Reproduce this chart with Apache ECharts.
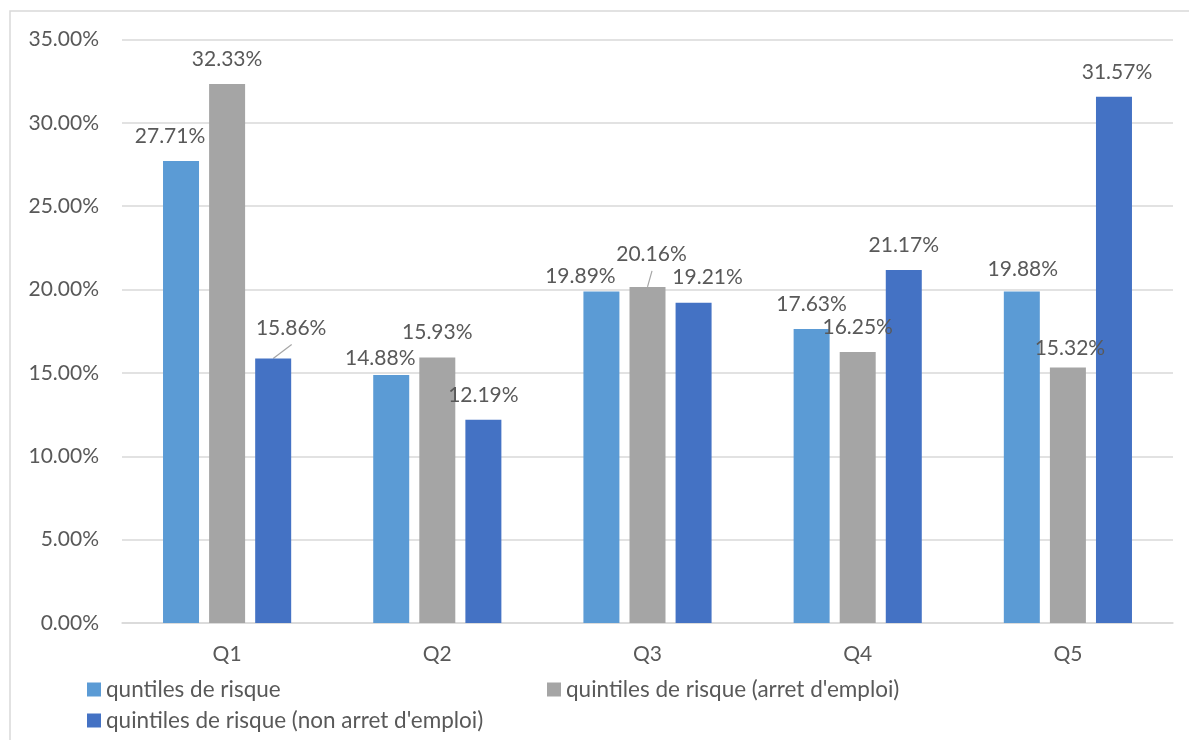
<!DOCTYPE html>
<html>
<head>
<meta charset="utf-8">
<script src="https://cdn.jsdelivr.net/npm/echarts@6/dist/echarts.min.js"></script>
<style>
html,body{margin:0;padding:0;background:#fff;}
#main{width:1189px;height:740px;}
</style>
</head>
<body>
<div id="main"></div>
<script>
const categories = ['Q1', 'Q2', 'Q3', 'Q4', 'Q5'];
const seriesNames = [
  'quntiles de risque',
  "quintiles de risque (arret d'emploi)",
  "quintiles de risque (non arret d'emploi)"
];
const valuesRisque = [27.71, 14.88, 19.89, 17.63, 19.88];
const valuesArret = [32.33, 15.93, 20.16, 16.25, 15.32];
const valuesNonArret = [15.86, 12.19, 19.21, 21.17, 31.57];
const yTicks = { min: 0, max: 35, interval: 5 };

// label placement tweaks (Excel-style moved labels), per series / per category
const labelShift = [
  [[-11, 0], [-11, 8], [-21, 9], [0, 0], [1, 2]],
  [[0, 0], [0, -1], [4, -8], [0, 0], [2, 5]],
  [[18, -6], [0, 0], [14, -1], [0, 0], [3, 0]]
];
const leaderLines = [[], [2], [0]];

const colors = ['#5B9BD5', '#A5A5A5', '#4472C4'];
const FONT = 'Lato';
const TXT = '#595959';

const allValues = [valuesRisque, valuesArret, valuesNonArret];

const chart = echarts.init(document.getElementById('main'), null, { renderer: 'canvas' });

const series = allValues.map((vals, si) => ({
  name: seriesNames[si],
  type: 'bar',
  barWidth: 36,
  barGap: '28%',
  itemStyle: { color: colors[si] },
  label: {
    show: true,
    position: 'top',
    distance: 14,
    color: TXT,
    fontFamily: FONT,
    fontSize: 21,
    formatter: p => p.value.toFixed(2) + '%'
  },
  labelLayout: p => {
    const s = labelShift[si][p.dataIndex];
    return { dx: s[0], dy: s[1] };
  },
  data: vals
}));

const legendBase = {
  itemWidth: 14,
  itemHeight: 14,
  icon: 'rect',
  itemGap: 0,
  textStyle: { color: TXT, fontFamily: FONT, fontSize: 22.5 },
  selectedMode: false
};

const baseGraphic = [{
  type: 'rect',
  shape: { x: 10, y: 11, width: 1200, height: 760 },
  style: { fill: 'none', stroke: '#D9D9D9', lineWidth: 1.5 },
  silent: true,
  z: -1
}];

chart.setOption({
  animation: false,
  backgroundColor: '#fff',
  color: colors,
  graphic: baseGraphic,
  grid: { left: 122, right: 16, top: 39.5, bottom: 117, containLabel: false },
  legend: [
    Object.assign({}, legendBase, { data: [seriesNames[0]], left: 82, top: 673 }),
    Object.assign({}, legendBase, { data: [seriesNames[1]], left: 542, top: 673 }),
    Object.assign({}, legendBase, { data: [seriesNames[2]], left: 82, top: 704 })
  ],
  xAxis: {
    type: 'category',
    data: categories,
    axisLine: { lineStyle: { color: '#D9D9D9', width: 1.5 } },
    axisTick: { show: false },
    axisLabel: { color: TXT, fontFamily: FONT, fontSize: 21, margin: 21 }
  },
  yAxis: {
    type: 'value',
    min: yTicks.min,
    max: yTicks.max,
    interval: yTicks.interval,
    axisLine: { show: false },
    axisTick: { show: false },
    splitLine: { lineStyle: { color: '#D9D9D9', width: 1.5 } },
    axisLabel: {
      color: TXT, fontFamily: FONT, fontSize: 21, margin: 23,
      formatter: v => v.toFixed(2) + '%'
    }
  },
  series: series
});

// leader lines for moved labels, positioned from the bars' computed layout
const leaders = [];
leaderLines.forEach((idxs, si) => {
  idxs.forEach(i => {
    let bx, by;
    try {
      const lay = chart.getModel().getSeriesByIndex(si).getData().getItemLayout(i);
      bx = lay.x + lay.width / 2;
      by = Math.min(lay.y, lay.y + lay.height);
    } catch (e) {
      const p = chart.convertToPixel({ seriesIndex: si }, [i, allValues[si][i]]);
      bx = p[0] + (si - 1) * 46; by = p[1];
    }
    const s = labelShift[si][i];
    leaders.push({
      type: 'line',
      silent: true,
      shape: { x1: bx, y1: by, x2: bx + s[0] + 0.5, y2: by - 25 + s[1] + 17 },
      style: { stroke: '#A5A5A5', lineWidth: 1.2 }
    });
  });
});
chart.setOption({ graphic: baseGraphic.concat(leaders) });
</script>
</body>
</html>
